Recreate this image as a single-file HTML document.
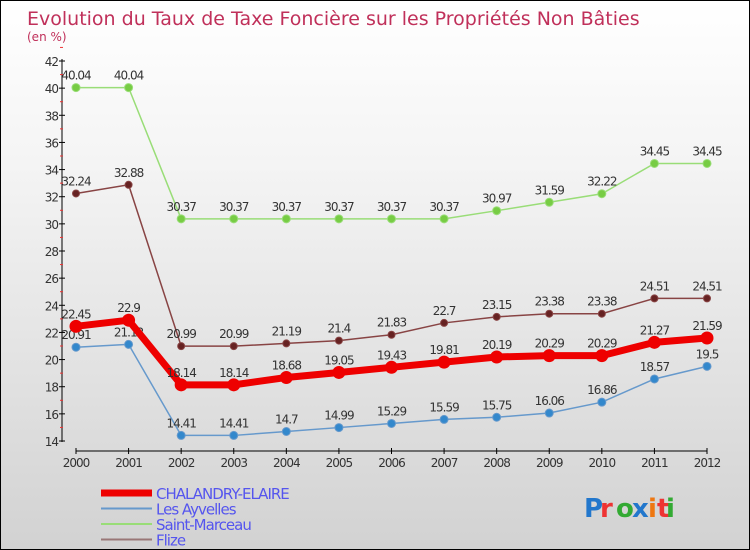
<!DOCTYPE html>
<html><head><meta charset="utf-8"><style>
body{margin:0}
#c{width:748px;height:548px;border:1px solid #000;position:relative;background:linear-gradient(#fff,#f4f4f4 30%,#d2d2d2);font-family:"DejaVu Sans","Liberation Sans",sans-serif;overflow:hidden}
</style></head><body>
<div id="c">
<svg id="s" width="748" height="548"></svg>
</div>
<script>
const years=[2000,2001,2002,2003,2004,2005,2006,2007,2008,2009,2010,2011,2012];
const chal=[22.45,22.9,18.14,18.14,18.68,19.05,19.43,19.81,20.19,20.29,20.29,21.27,21.59];
const ayv=[20.91,21.12,14.41,14.41,14.7,14.99,15.29,15.59,15.75,16.06,16.86,18.57,19.5];
const stm=[40.04,40.04,30.37,30.37,30.37,30.37,30.37,30.37,30.97,31.59,32.22,34.45,34.45];
const fli=[32.24,32.88,20.99,20.99,21.19,21.4,21.83,22.7,23.15,23.38,23.38,24.51,24.51];
const yTicks=[14,16,18,20,22,24,26,28,30,32,34,36,38,40,42];
const lbl=a=>a.map(v=>String(v));
const s=document.getElementById('s');const NS='http://www.w3.org/2000/svg';
function el(t,a,txt,name){const e=document.createElementNS(NS,t);for(const k in a)e.setAttribute(k,a[k]);if(txt!==undefined)e.textContent=txt;


s.appendChild(e);return e;}
const X=i=>75+i*(706-75)/12;
const Y=v=>440-(v-14)*380/28;
el('text',{x:26,y:24,fill:'#c0305a','font-size':19},'Evolution du Taux de Taxe Foncière sur les Propriétés Non Bâties','chart-title');
el('text',{x:26,y:40,fill:'#c0305a','font-size':12},'(en %)','unit-label');
el('line',{x1:61,y1:58,x2:61,y2:441,stroke:'#000'},undefined,'y-axis');
yTicks.forEach(v=>{el('line',{x1:58,x2:64,y1:Y(v),y2:Y(v),stroke:'#000'},undefined,'y-tick');
el('line',{x1:59,x2:62,y1:Y(v+1),y2:Y(v+1),stroke:'#e33'},undefined,'y-minor-tick');
el('text',{x:57,y:Y(v)+5,'text-anchor':'end','font-size':12,fill:'#333','letter-spacing':'-1'},String(v),'y-tick-label');});
el('line',{x1:75,y1:450,x2:706,y2:450,stroke:'#000'},undefined,'x-axis');
years.forEach((y,i)=>{el('line',{x1:X(i),x2:X(i),y1:447,y2:453,stroke:'#000'},undefined,'x-tick');
el('text',{x:X(i),y:466,'text-anchor':'middle','font-size':12,fill:'#333','letter-spacing':'-1'},String(y),'x-tick-label');});
function series(d,col,dot,w,r,name){
el('polyline',{points:d.map((v,i)=>X(i)+','+Y(v)).join(' '),fill:'none',stroke:col,'stroke-width':w},undefined,name+'-line');
d.forEach((v,i)=>{el('circle',{cx:X(i),cy:Y(v),r:r,fill:dot,stroke:col,'stroke-width':1},undefined,name+'-point');
el('text',{x:X(i),y:Y(v)-8,'text-anchor':'middle','font-size':12,fill:'#333','letter-spacing':'-1'},lbl(d)[i],name+'-value-label');});}
series(stm,'#99dd77','#77cc44',1.5,4,'saint-marceau');
series(fli,'#884444','#662222',1.5,3.5,'flize');
series(ayv,'#6699cc','#3388cc',1.5,4,'les-ayvelles');
series(chal,'#ee0000','#ee0000',7,6,'chalandry-elaire');
const leg=[['CHALANDRY-ELAIRE','#ee0000',7],['Les Ayvelles','#6699cc',2],['Saint-Marceau','#99dd77',2],['Flize','#997777',2]];
leg.forEach((l,i)=>{const y=492+i*15.5;el('line',{x1:100,x2:151,y1:y,y2:y,stroke:l[1],'stroke-width':l[2]},undefined,'legend-swatch');
el('text',{x:155,y:y+6,'font-size':15,fill:'#5555ee','letter-spacing':'-1'},l[0],'legend-entry');});
const pc=[['P','#2277cc'],['r','#ee3333'],['o','#33aa33'],['x','#2277cc'],['i','#ee7711'],['t','#ee3333'],['i','#33aa33']];
let px=583;pc.forEach(p=>{const t=el('text',{x:px,y:516,'font-size':26,fill:p[1],'font-weight':'bold'},p[0],'proxiti-logo-letter');px+=p[0]=='i'||p[0]=='t'?9:16;});
</script>
</body></html>
